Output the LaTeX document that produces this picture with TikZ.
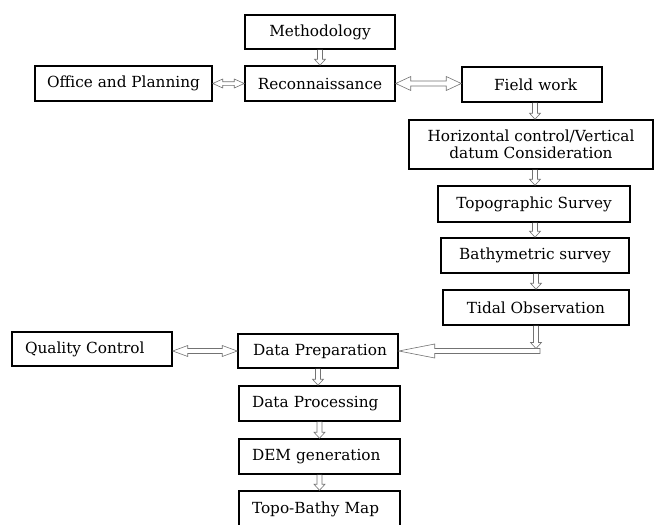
\documentclass[tikz,border=0pt]{standalone}
\usepackage{fontspec}
\setmainfont{DejaVu Serif}
\usetikzlibrary{calc}
\newcommand{\fs}{\fontsize{15.3}{17.5}\selectfont}
% vertical hollow arrow: from #1 down to #2 (x taken from #1)
\newcommand{\vharrow}[2]{%
  \draw[hollow] let \p1=(#1), \p2=(#2) in
   (\x1-2.5pt,\y1) -- (\x1-2.5pt,\y2+6pt) -- (\x1-5.5pt,\y2+6pt) -- (\x1,\y2)
   -- (\x1+5.5pt,\y2+6pt) -- (\x1+2.5pt,\y2+6pt) -- (\x1+2.5pt,\y1);}
% horizontal double hollow arrow: #1 left end, #2 right end; #3 shaft half, #4 head half, #5 head length
\newcommand{\dharrow}[5]{%
  \draw[hollow] let \p1=(#1), \p2=(#2) in
   (\x1,\y1) -- (\x1+#5,\y1+#4) -- (\x1+#5,\y1+#3) -- (\x2-#5,\y1+#3) -- (\x2-#5,\y1+#4)
   -- (\x2,\y1) -- (\x2-#5,\y1-#4) -- (\x2-#5,\y1-#3) -- (\x1+#5,\y1-#3) -- (\x1+#5,\y1-#4) -- cycle;}
\begin{document}
\begin{tikzpicture}[x=1pt,y=-1pt,
  box/.style={draw, line width=1.5pt, inner sep=0pt, font=\fs, align=center},
  lbox/.style={box, align=left, inner xsep=#1},
  hollow/.style={draw=black!55, line width=0.6pt, fill=white}]
\useasboundingbox (0,0) rectangle (654,525);

\node[box, minimum width=150, minimum height=34] (meth) at (320,32) {Methodology};
\node[box, minimum width=177, minimum height=35] (office) at (123.5,83.5) {Office and Planning};
\node[box, minimum width=150, minimum height=35] (recon) at (320,83.5) {Reconnaissance};
\node[lbox=32pt, text width=76, minimum height=35] (field) at (532,84.5) {\mbox{Field work}};
\node[box, minimum width=244, minimum height=49] (horiz) at (531,144.5) {Horizontal control/Vertical\\datum Consideration};
\node[box, minimum width=192, minimum height=36] (topo) at (534,204) {Topographic Survey};
\node[box, minimum width=188, minimum height=35] (bathy) at (535,255.5) {Bathymetric survey};
\node[box, minimum width=186, minimum height=35] (tidal) at (536,307.5) {Tidal Observation};
\node[lbox=13pt, text width=134, minimum height=34] (quality) at (92,349) {\mbox{Quality Control}};
\node[lbox=15pt, text width=130, minimum height=34] (prep) at (318,351) {\mbox{Data Preparation}};
\node[lbox=13pt, text width=135, minimum height=35] (proc) at (319.5,403.5) {\mbox{Data Processing}};
\node[lbox=13pt, text width=135, minimum height=35] (dem) at (319.5,456.5) {\mbox{DEM generation}};
\node[lbox=13pt, text width=135, minimum height=37] (map) at (319.5,509.5) {\mbox{Topo-Bathy Map}};

\coordinate (bend) at (536,351);
\coordinate (vcol) at (535,0);

\vharrow{meth.south}{recon.north}
\dharrow{office.east |- recon.west}{recon.west}{1.8pt}{4.5pt}{10pt}
\dharrow{recon.east}{field.west |- recon.east}{2.5pt}{7pt}{15pt}
\vharrow{field.south -| vcol}{horiz.north}
\vharrow{horiz.south -| vcol}{topo.north}
\vharrow{topo.south -| vcol}{bathy.north}
\vharrow{bathy.south -| bend}{tidal.north}
\draw[hollow] let \p1=(bend), \p2=(prep.east) in
  (\x1+4pt,\y1+2.5pt) -- (\x2+36pt,\y1+2.5pt) -- (\x2+36pt,\y1+7pt) -- (\x2,\y1)
  -- (\x2+36pt,\y1-7pt) -- (\x2+36pt,\y1-2.5pt) -- (\x1+4pt,\y1-2.5pt) -- cycle;
\vharrow{tidal.south -| bend}{$(bend)+(0,-2.5)$}
\dharrow{quality.east |- prep.west}{prep.west}{2.5pt}{5.5pt}{15pt}
\vharrow{prep.south}{proc.north}
\vharrow{proc.south}{dem.north}
\vharrow{dem.south}{map.north}
\end{tikzpicture}
\end{document}
